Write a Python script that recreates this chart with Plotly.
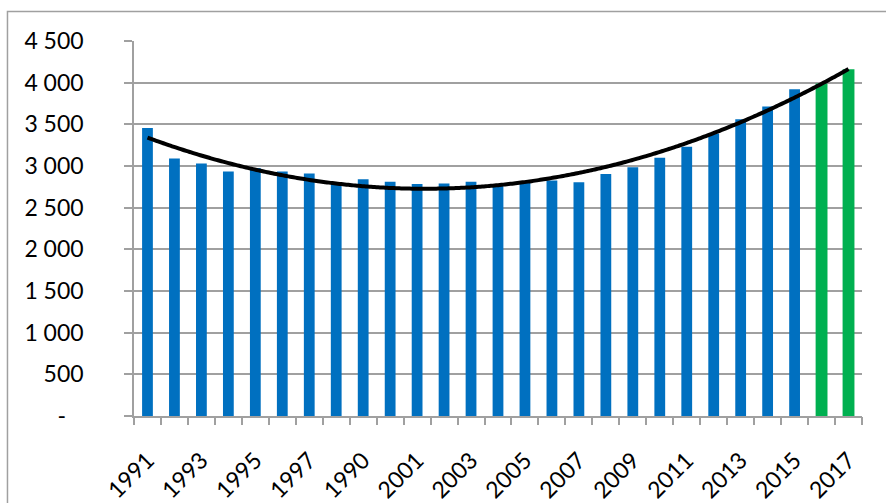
import numpy as np
import plotly.graph_objects as go

# Annual values, 1991-2017 (last two years highlighted)
years = list(range(1991, 2018))
values = [3455, 3090, 3030, 2935, 2975, 2935, 2910, 2790, 2840, 2810,
          2785, 2790, 2810, 2775, 2795, 2825, 2805, 2905, 2985, 3100,
          3230, 3390, 3560, 3715, 3920, 3990, 4160]
highlight_years = [2016, 2017]

# Axis labels as printed on the chart
x_tick_labels = ["1991", "1993", "1995", "1997", "1990", "2001", "2003",
                 "2005", "2007", "2009", "2011", "2013", "2015", "2017"]
y_tick_vals = [0, 500, 1000, 1500, 2000, 2500, 3000, 3500, 4000, 4500]
y_tick_labels = ["-\u00a0\u00a0\u00a0", "500", "1 000", "1 500", "2 000",
                 "2 500", "3 000", "3 500", "4 000", "4 500"]

BLUE = "#0070C0"
GREEN = "#00B050"
GRID = "#A0A0A0"
FONT = "Lato"

pos = np.arange(1, len(years) + 1)
colors = [GREEN if y in highlight_years else BLUE for y in years]
widths = [0.44 if y in highlight_years else 0.40 for y in years]

# second-order polynomial trend through the yearly values
coef = np.polyfit(pos, values, 2)
trend_x = np.linspace(pos[0], pos[-1], 200)
trend_y = np.polyval(coef, trend_x)

fig = go.Figure()
fig.add_trace(go.Bar(x=pos, y=values, marker=dict(color=colors, line=dict(width=0)),
                     width=widths, showlegend=False, hoverinfo="x+y"))
fig.add_trace(go.Scatter(x=trend_x, y=trend_y, mode="lines",
                         line=dict(color="black", width=4, shape="spline"),
                         showlegend=False, hoverinfo="skip"))
# invisible trace carrying the boundary tick marks axis
fig.add_trace(go.Scatter(x=[pos[0]], y=[0], xaxis="x2", mode="markers",
                         marker=dict(opacity=0), showlegend=False, hoverinfo="skip"))

x_range = [0.5, len(years) + 0.5]
fig.update_layout(
    width=886, height=503,
    margin=dict(l=134, r=24, t=41, b=87, autoexpand=False),
    paper_bgcolor="white", plot_bgcolor="white",
    font=dict(family=FONT, size=23, color="black"),
    xaxis=dict(range=x_range, tickvals=pos[::2].tolist(), ticktext=x_tick_labels,
               tickangle=-45, ticks="", showgrid=False, zeroline=False,
               showline=True, linecolor=GRID, linewidth=1.5, automargin=False,
               ticklabelstandoff=20,
               tickfont=dict(family=FONT, size=23, color="black")),
    xaxis2=dict(range=x_range, overlaying="x", side="bottom",
                tickvals=(np.arange(len(years) + 1) + 0.5).tolist(),
                showticklabels=False, ticks="outside", ticklen=8,
                tickcolor=GRID, tickwidth=1.5, showgrid=False, zeroline=False,
                showline=False),
    yaxis=dict(range=[0, 4500], tickvals=y_tick_vals, ticktext=y_tick_labels,
               ticks="outside", ticklen=8, tickcolor=GRID, tickwidth=1.5,
               showgrid=True, gridcolor=GRID, gridwidth=1.5, zeroline=False,
               showline=True, linecolor=GRID, linewidth=1.5,
               ticklabelstandoff=36, automargin=False,
               tickfont=dict(family=FONT, size=23, color="black")),
    shapes=[dict(type="rect", xref="paper", yref="paper",
                 x0=-0.1738, x1=1.2, y0=-0.4, y1=1.0784,
                 line=dict(color=GRID, width=1.5), fillcolor="rgba(0,0,0,0)",
                 layer="below")],
)

fig.write_html("out.html")
